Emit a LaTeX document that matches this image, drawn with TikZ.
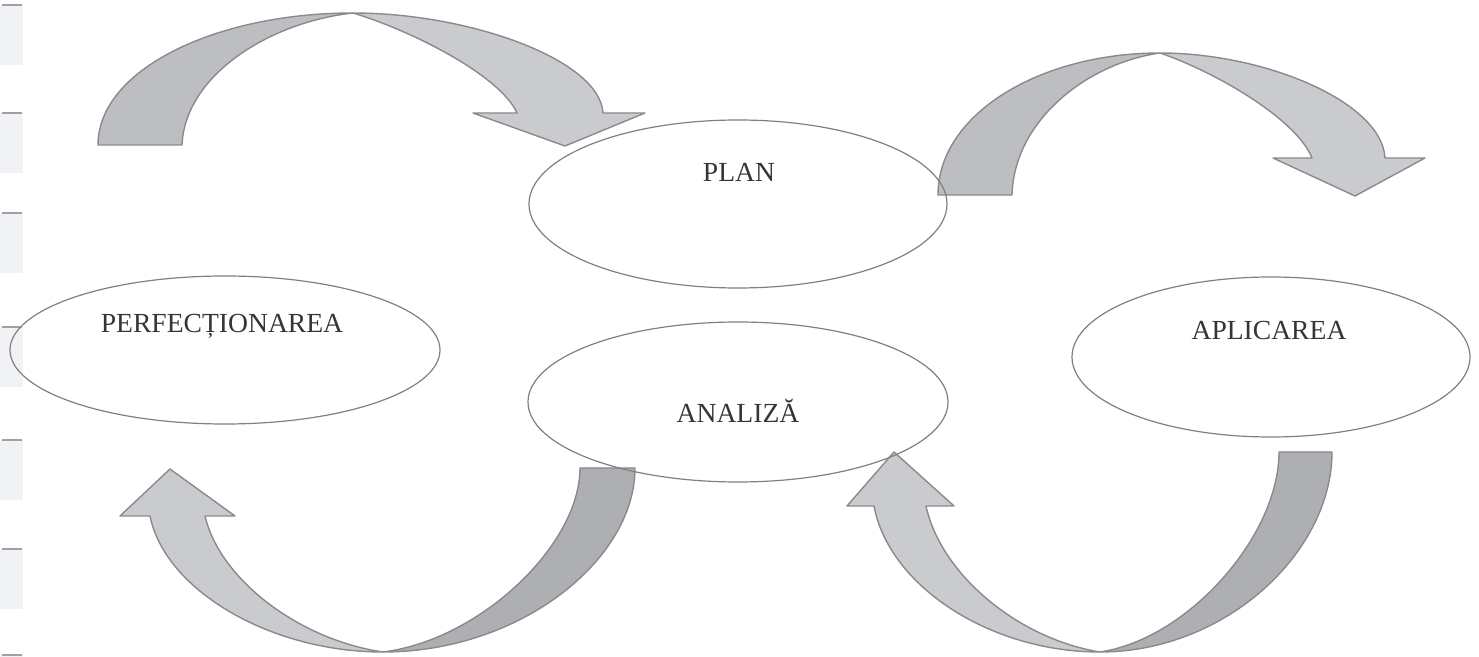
\documentclass[tikz,border=0pt]{standalone}
\usepackage{fontspec}
\setmainfont{Liberation Serif}
\usetikzlibrary{shapes.geometric}
\definecolor{arrowlight}{HTML}{CACBCF}
\definecolor{arrowmid}{HTML}{BDBEC2}
\definecolor{arrowdark}{HTML}{AEAFB3}
\definecolor{arrowline}{HTML}{8A8A8A}
\definecolor{ellline}{HTML}{808080}
\definecolor{txt}{HTML}{353535}
\definecolor{tabfill}{HTML}{F0F2F6}
\definecolor{tabline}{HTML}{A0A0A0}
\begin{document}
\begin{tikzpicture}[x=0.5pt,y=-0.5pt,
  lightpart/.style={fill=arrowlight, draw=arrowline, line width=0.7pt, line join=round},
  midpart/.style={fill=arrowmid, draw=arrowline, line width=0.7pt, line join=round},
  darkpart/.style={fill=arrowdark, draw=arrowline, line width=0.7pt, line join=round},
  oval/.style={ellipse, draw=ellline, line width=0.6pt, inner sep=0pt},
  lbl/.style={text=txt, font=\fontsize{13.8}{16}\selectfont, inner sep=0pt, anchor=base},
  tabbox/.style={fill=tabfill, draw=none}]
\useasboundingbox (0,0) rectangle (1479,657);
\fill[white] (0,0) rectangle (1479,657);
% page tabs on the left edge
\foreach \t in {5,113,213,327,440,549,655} {
  \fill[tabbox] (0,\t) rectangle (23,\t+60);
  \draw[tabline, line width=0.9pt] (2,\t) -- (22,\t);
}
% top-left curved arrow
\draw[midpart] (98,145) .. controls (98,70) and (215,13) .. (353,13)
  .. controls (270,22) and (185,75) .. (182,145) -- cycle;
\draw[lightpart] (353,13) .. controls (470,13) and (600,60) .. (603,113)
  -- (645,113) -- (565,146) -- (473,113) -- (517,113)
  .. controls (500,75) and (410,30) .. (353,13) -- cycle;
% top-right curved arrow
\draw[midpart] (938,195) .. controls (938,114) and (1040,53) .. (1160,53)
  .. controls (1088,63) and (1014,120) .. (1012,195) -- cycle;
\draw[lightpart] (1160,53) .. controls (1265,53) and (1382,102) .. (1385,158)
  -- (1425,158) -- (1355,196) -- (1273,158) -- (1312,158)
  .. controls (1296,118) and (1213,71) .. (1160,53) -- cycle;
% bottom-left curved arrow
\draw[darkpart] (635,468) .. controls (635,560) and (520,652) .. (383,652)
  .. controls (480,640) and (580,545) .. (580,468) -- cycle;
\draw[lightpart] (383,652) .. controls (270,652) and (165,590) .. (150,516)
  -- (120,516) -- (170,469) -- (235,516) -- (205,516)
  .. controls (220,580) and (300,640) .. (383,652) -- cycle;
% bottom-right curved arrow
\draw[darkpart] (1332,452) .. controls (1332,552) and (1226,652) .. (1100,652)
  .. controls (1188,639) and (1279,536) .. (1279,452) -- cycle;
\draw[lightpart] (1100,652) .. controls (990,652) and (889,586) .. (874,506)
  -- (847,506) -- (894,452) -- (954,506) -- (926,506)
  .. controls (941,575) and (1019,639) .. (1100,652) -- cycle;
% ellipses
\node[oval, minimum width=209pt, minimum height=84pt] (plan) at (738,204) {};
\node[oval, minimum width=210pt, minimum height=80pt] (analiza) at (738,402) {};
\node[oval, minimum width=215pt, minimum height=74pt] (perf) at (225,350) {};
\node[oval, minimum width=199pt, minimum height=80pt] (aplic) at (1271,357) {};
% labels
\node[lbl] (tplan) at (739,182) {PLAN};
\node[lbl] (tanaliza) at (738,423) {ANALIZĂ};
\node[lbl] (tperf) at (222,333) {PERFECȚIONAREA};
\node[lbl] (taplic) at (1269,340) {APLICAREA};
\end{tikzpicture}
\end{document}
